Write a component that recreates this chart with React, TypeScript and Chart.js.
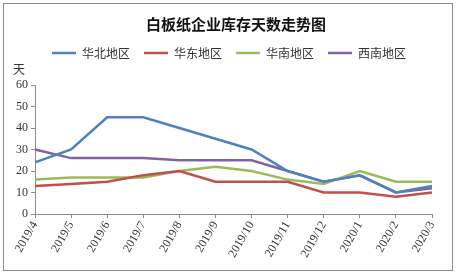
import React, { useEffect, useRef } from "react";
import { Chart, registerables } from "chart.js";

Chart.register(...registerables);

const categories = ["2019/4", "2019/5", "2019/6", "2019/7", "2019/8", "2019/9", "2019/10", "2019/11", "2019/12", "2020/1", "2020/2", "2020/3"];
const huabei = [24, 30, 45, 45, 40, 35, 30, 20, 15, 18, 10, 13];
const huadong = [13, 14, 15, 18, 20, 15, 15, 15, 10, 10, 8, 10];
const huanan = [16, 17, 17, 17, 20, 22, 20, 16, 14, 20, 15, 15];
const xinan = [30, 26, 26, 26, 25, 25, 25, 20, 15, 18, 10, 12];
const seriesNames = ["华北地区", "华东地区", "华南地区", "西南地区"];
const seriesColors = ["#4F81BD", "#C0504D", "#9BBB59", "#8064A2"];
const titleText = "白板纸企业库存天数走势图";
const yUnit = "天";

const CJK = "'Noto Sans CJK SC', sans-serif";
const SERIF = "'Liberation Serif', 'DejaVu Serif', serif";

const framePlugin = {
  id: "frame",
  beforeLayout(chart: any) {
    const lg = chart.legend;
    if (lg && !lg._patched) {
      const orig = lg.fit;
      lg.fit = function () {
        orig.call(this);
        this.height += 16;
      };
      lg._patched = true;
    }
  },
  afterLayout(chart: any) {
    const lg = chart.legend;
    if (lg) {
      lg.left += 13;
      lg.right += 13;
    }
    const tb = chart.titleBlock;
    if (tb) {
      tb.left += 20;
      tb.right += 20;
    }
  },
  beforeDraw(chart: any) {
    const ctx = chart.ctx;
    ctx.save();
    ctx.fillStyle = "#ffffff";
    ctx.fillRect(0, 0, chart.width, chart.height);
    ctx.strokeStyle = "#8c8c8c";
    ctx.lineWidth = 1;
    ctx.strokeRect(3.5, 3.5, 449, 267);
    ctx.restore();
  },
  afterDraw(chart: any) {
    const ctx = chart.ctx;
    const y = chart.scales.y;
    ctx.save();
    ctx.fillStyle = "#333333";
    ctx.font = "12px " + CJK;
    ctx.textAlign = "center";
    ctx.textBaseline = "middle";
    ctx.fillText(yUnit, 19, y.top - 16);
    ctx.restore();
  },
};

export default function App() {
  const ref = useRef<HTMLCanvasElement>(null);
  useEffect(() => {
    if (!ref.current) return;
    const allData = [huabei, huadong, huanan, xinan];
    const chart = new Chart(ref.current, {
      type: "line",
      data: {
        labels: categories,
        datasets: allData.map((d, i) => ({
          label: seriesNames[i],
          data: d,
          borderColor: seriesColors[i],
          backgroundColor: seriesColors[i],
          borderWidth: 2.5,
          pointRadius: 0,
          pointStyle: "line",
          tension: 0,
        })),
      },
      options: {
        responsive: false,
        animation: false,
        layout: { padding: { left: 0, right: 28, top: 0, bottom: 0 } },
        plugins: {
          title: {
            display: true,
            text: titleText,
            color: "#111111",
            font: { family: CJK, size: 15, weight: "bold" },
            padding: { top: 15, bottom: 0 },
          },
          legend: {
            display: true,
            position: "top",
            labels: {
              usePointStyle: true,
              pointStyleWidth: 24,
              boxHeight: 12,
              padding: 14,
              color: "#333333",
              font: { family: CJK, size: 12 },
            },
          },
          tooltip: { enabled: false },
        },
        scales: {
          x: {
            offset: false,
            afterFit(scale: any) {
              scale.height = 63;
            },
            grid: { display: true, drawOnChartArea: false, drawTicks: true, tickLength: 4, color: "#8c8c8c" },
            border: { display: true, color: "#8c8c8c" },
            ticks: {
              autoSkip: false,
              maxRotation: 60,
              minRotation: 60,
              padding: 1,
              color: "#333333",
              font: { family: SERIF, size: 12 },
            },
          },
          y: {
            min: 0,
            max: 60,
            afterFit(scale: any) {
              scale.width = 35;
            },
            grid: { display: true, drawOnChartArea: false, drawTicks: true, tickLength: 4, color: "#8c8c8c" },
            border: { display: true, color: "#8c8c8c" },
            ticks: {
              stepSize: 10,
              padding: 3,
              color: "#333333",
              font: { family: SERIF, size: 12 },
            },
          },
        },
      },
      plugins: [framePlugin],
    });
    return () => chart.destroy();
  }, []);
  return (
    <div style={{ position: "fixed", left: 0, top: 0, width: 460, height: 277 }}>
      <canvas ref={ref} width={460} height={277} />
    </div>
  );
}
